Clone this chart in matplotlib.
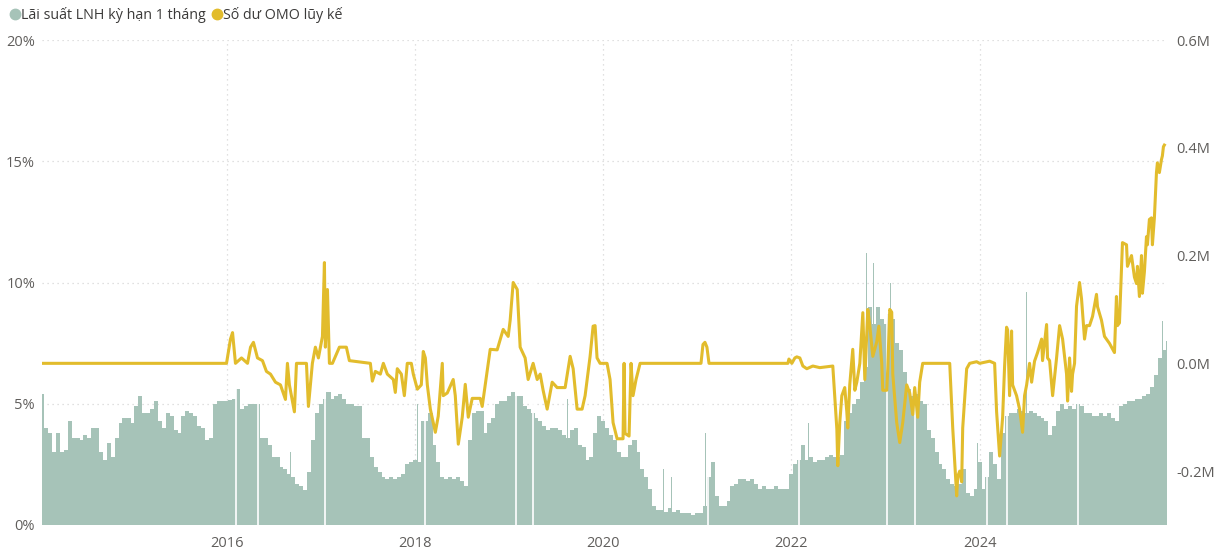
import numpy as np
import matplotlib
matplotlib.use('Agg')
import matplotlib.pyplot as plt
from matplotlib.lines import Line2D

plt.rcParams['font.family'] = ['Open Sans', 'DejaVu Sans']

# Lai suat LNH ky han 1 thang (%), gia tri nua thang
rate_2014 = [5.4, 4.0, 3.8, 3.0, 3.8, 3.0, 3.1, 4.3, 3.6, 3.6, 3.5, 3.7, 3.6, 4.0, 4.0, 3.0, 2.7, 3.4, 2.8, 3.6, 4.2, 4.4, 4.4, 4.2]
rate_2015 = [4.9, 5.3, 4.6, 4.6, 4.8, 5.1, 4.3, 4.0, 4.6, 4.5, 3.9, 3.8, 4.5, 4.7, 4.6, 4.5, 4.1, 4.0, 3.5, 3.6, 5.0, 5.1, 5.1, 5.1]
rate_2016 = [5.15, 5.2, 5.6, 4.8, 4.9, 5.0, 5.0, 5.0, 3.6, 3.6, 3.3, 2.8, 2.8, 2.4, 2.3, 2.1, 2.0, 1.7, 1.6, 1.45, 2.2, 3.5, 4.6, 5.0]
rate_2017 = [5.2, 5.5, 5.2, 5.3, 5.4, 5.2, 5.0, 5.0, 4.9, 4.9, 3.6, 3.6, 2.8, 2.4, 2.2, 2.0, 1.9, 2.0, 1.9, 2.0, 2.1, 2.5, 2.6, 2.7]
rate_2018 = [2.6, 4.3, 4.3, 4.6, 3.3, 2.6, 2.0, 1.9, 2.0, 1.9, 2.0, 1.8, 1.6, 3.5, 4.6, 4.7, 4.7, 3.8, 4.2, 4.4, 5.0, 5.1, 5.1, 5.3]
rate_2019 = [5.5, 5.3, 5.3, 4.9, 4.8, 4.6, 4.4, 4.3, 4.1, 3.9, 4.0, 4.0, 3.9, 3.7, 3.6, 3.9, 4.0, 3.3, 3.2, 2.7, 2.8, 3.8, 4.5, 4.3]
rate_2020 = [4.0, 3.7, 3.5, 3.0, 2.8, 2.8, 3.3, 3.5, 3.0, 2.3, 2.0, 1.5, 0.8, 0.6, 0.6, 0.55, 0.7, 0.55, 0.6, 0.5, 0.5, 0.5, 0.4, 0.5]
rate_2021 = [0.5, 0.8, 2.0, 2.6, 1.2, 0.8, 0.8, 1.0, 1.6, 1.7, 1.9, 1.9, 1.8, 1.9, 1.7, 1.5, 1.6, 1.5, 1.5, 1.6, 1.5, 1.5, 1.5, 2.1]
rate_2022 = [2.5, 2.7, 3.3, 2.7, 2.8, 2.6, 2.7, 2.7, 2.8, 2.9, 2.8, 2.8, 2.9, 4.3, 4.6, 5.0, 5.2, 5.9, 6.5, 9.0, 8.3, 9.0, 8.5, 8.3]
rate_2023 = [8.7, 8.5, 7.5, 7.2, 6.3, 5.6, 5.3, 5.4, 5.1, 5.0, 3.9, 3.6, 3.0, 2.5, 2.3, 1.9, 1.7, 1.6, 1.7, 2.3, 1.3, 1.2, 1.5, 2.6]
rate_2024 = [1.5, 2.0, 3.0, 2.5, 1.9, 3.8, 4.5, 4.6, 4.6, 4.8, 4.7, 4.6, 4.7, 4.6, 4.5, 4.4, 4.3, 3.7, 4.1, 4.7, 5.0, 4.8, 4.9, 4.8]
rate_2025 = [5.0, 4.9, 4.6, 4.6, 4.5, 4.5, 4.6, 4.5, 4.6, 4.4, 4.3, 4.9, 5.0, 5.1, 5.1, 5.2, 5.2, 5.3, 5.4, 5.7, 6.2, 6.9, 7.2, 7.6]

rate_years = list(range(2014, 2026))
rates = [rate_2014, rate_2015, rate_2016, rate_2017, rate_2018, rate_2019,
         rate_2020, rate_2021, rate_2022, rate_2023, rate_2024, rate_2025]

# cac ngay lai suat tang dot bien
spike_dates = [2016.06, 2016.68, 2017.45, 2018.03, 2019.62, 2020.64, 2020.73, 2021.09, 2022.18,
               2022.80, 2022.87, 2022.94, 2023.05, 2023.79, 2023.98, 2024.50, 2025.94]
spike_vals = [5.7, 3.0, 4.2, 5.0, 5.2, 2.3, 2.0, 3.8, 4.2,
              11.2, 10.8, 9.6, 10.0, 3.0, 3.4, 9.6, 8.4]

# ngay nghi (Tet, 30/4) - khong co du lieu
gap_dates = [2016.10, 2016.33, 2017.05, 2018.11, 2019.08, 2019.26, 2021.11,
             2022.08, 2023.02, 2023.31, 2024.08, 2024.29, 2025.04]

# So du OMO luy ke (trieu ty)
omo_t = [2014.04, 2016.000, 2016.042, 2016.064, 2016.095, 2016.159, 2016.223, 2016.255, 2016.286,
         2016.329, 2016.382, 2016.424, 2016.467, 2016.520, 2016.573, 2016.626, 2016.647, 2016.668,
         2016.721, 2016.743, 2016.849, 2016.870, 2016.912, 2016.944, 2016.976, 2017.019, 2017.040,
         2017.050, 2017.072, 2017.093, 2017.125, 2017.199, 2017.273, 2017.305, 2017.528, 2017.549,
         2017.581, 2017.634, 2017.666, 2017.708, 2017.772, 2017.793, 2017.814, 2017.857, 2017.889,
         2017.920, 2017.963, 2017.984, 2018.027, 2018.069, 2018.090, 2018.112, 2018.133, 2018.165,
         2018.218, 2018.249, 2018.292, 2018.302, 2018.345, 2018.408, 2018.430, 2018.462, 2018.504,
         2018.536, 2018.568, 2018.610, 2018.695, 2018.716, 2018.748, 2018.801, 2018.875, 2018.939,
         2018.992, 2019.013, 2019.045, 2019.088, 2019.119, 2019.172, 2019.204, 2019.257, 2019.300,
         2019.332, 2019.363, 2019.406, 2019.459, 2019.512, 2019.597, 2019.650, 2019.682, 2019.724,
         2019.777, 2019.809, 2019.862, 2019.894, 2019.915, 2019.936, 2019.968, 2020.042, 2020.074,
         2020.106, 2020.149, 2020.212, 2020.223, 2020.233, 2020.276, 2020.297, 2020.318, 2020.350,
         2020.393, 2021.040, 2021.061, 2021.082, 2021.103, 2021.125, 2021.963, 2021.974, 2022.005,
         2022.037, 2022.058, 2022.090, 2022.122, 2022.164, 2022.228, 2022.302, 2022.440, 2022.483,
         2022.493, 2022.514, 2022.536, 2022.567, 2022.589, 2022.599, 2022.620, 2022.652, 2022.674,
         2022.695, 2022.727, 2022.759, 2022.780, 2022.812, 2022.833, 2022.865, 2022.907, 2022.929,
         2022.960, 2022.971, 2023.013, 2023.024, 2023.045, 2023.066, 2023.077, 2023.119, 2023.151,
         2023.183, 2023.225, 2023.257, 2023.289, 2023.310, 2023.342, 2023.363, 2023.395, 2023.682,
         2023.714, 2023.756, 2023.767, 2023.788, 2023.809, 2023.820, 2023.862, 2023.894, 2023.968,
         2024.000, 2024.106, 2024.159, 2024.180, 2024.212, 2024.244, 2024.265, 2024.286, 2024.297,
         2024.318, 2024.339, 2024.350, 2024.392, 2024.424, 2024.456, 2024.477, 2024.499, 2024.530,
         2024.552, 2024.583, 2024.615, 2024.658, 2024.668, 2024.711, 2024.721, 2024.743, 2024.775,
         2024.817, 2024.849, 2024.881, 2024.923, 2024.934, 2024.955, 2024.976, 2024.987, 2025.008,
         2025.029, 2025.061, 2025.082, 2025.114, 2025.135, 2025.167, 2025.199, 2025.241, 2025.252,
         2025.294, 2025.326, 2025.379, 2025.432, 2025.453, 2025.464, 2025.485, 2025.517, 2025.560,
         2025.570, 2025.613, 2025.644, 2025.666, 2025.676, 2025.697, 2025.719, 2025.729, 2025.750,
         2025.772, 2025.782, 2025.803, 2025.825, 2025.835, 2025.856, 2025.878, 2025.888, 2025.909,
         2025.931, 2025.941, 2025.952, 2025.962]
omo_v = [0.0, 0.0, 0.045, 0.057, 0.0, 0.01, 0.0, 0.03, 0.039,
         0.01, 0.005, -0.015, -0.02, -0.035, -0.04, -0.067, 0.0, -0.04,
         -0.09, 0.0, 0.0, -0.08, 0.0, 0.03, 0.01, 0.05, 0.187,
         0.03, 0.137, 0.0, 0.0, 0.03, 0.03, 0.005, 0.0, -0.033,
         -0.015, -0.02, 0.0, -0.02, -0.03, -0.054, -0.01, -0.02, -0.06,
         0.0, 0.0, -0.02, -0.048, -0.04, 0.022, 0.01, -0.04, -0.085,
         -0.128, -0.098, 0.0, -0.06, -0.055, -0.03, -0.06, -0.15, -0.1,
         -0.039, -0.1, -0.065, -0.065, -0.08, -0.04, 0.026, 0.025, 0.063,
         0.05, 0.08, 0.15, 0.137, 0.03, 0.01, -0.03, 0.0, -0.03,
         -0.02, -0.05, -0.085, -0.035, -0.045, -0.045, 0.013, -0.01, -0.085,
         -0.085, -0.06, 0.013, 0.069, 0.07, 0.01, 0.0, 0.0, -0.03,
         -0.11, -0.14, -0.14, 0.0, -0.13, -0.135, 0.0, -0.06, -0.03,
         0.0, 0.0, 0.035, 0.039, 0.03, 0.0, 0.0, 0.008, 0.0,
         0.01, 0.012, 0.01, -0.005, -0.01, -0.005, -0.008, -0.005, -0.122,
         -0.19, -0.11, -0.06, -0.045, -0.09, -0.12, -0.04, 0.026, -0.05,
         -0.035, 0.0, 0.094, -0.03, 0.1, 0.07, 0.013, 0.04, 0.069,
         0.0, -0.05, -0.05, -0.01, 0.1, 0.095, -0.02, -0.11, -0.147,
         -0.11, -0.04, -0.055, -0.095, -0.045, -0.1, -0.035, 0.0, 0.0,
         -0.12, -0.246, -0.21, -0.2, -0.22, -0.12, -0.01, 0.0, 0.003,
         0.0, 0.004, 0.0, -0.09, -0.172, -0.1, -0.005, 0.067, 0.062,
         -0.06, 0.06, -0.04, -0.06, -0.085, -0.128, -0.06, -0.04, 0.0,
         -0.035, 0.004, 0.02, 0.045, 0.005, 0.072, 0.01, 0.005, -0.06,
         0.01, 0.07, 0.045, -0.02, -0.07, 0.01, -0.052, -0.02, 0.0,
         0.106, 0.15, 0.12, 0.045, 0.07, 0.07, 0.087, 0.128, 0.105,
         0.08, 0.05, 0.037, 0.02, 0.124, 0.07, 0.075, 0.224, 0.22,
         0.18, 0.2, 0.16, 0.148, 0.18, 0.124, 0.2, 0.13, 0.17,
         0.235, 0.22, 0.267, 0.27, 0.22, 0.27, 0.354, 0.372, 0.354,
         0.378, 0.385, 0.402, 0.405]

bar_color = '#A6C3B8'
line_color = '#E2BC2C'
text_color = '#605E5C'
grid_color = '#D6D6D6'

bar_x = np.concatenate([y + (np.arange(len(r)) + 1) / 24 for y, r in zip(rate_years, rates)])
bar_y = np.concatenate(rates)

fig = plt.figure(figsize=(12.22, 5.5), dpi=100)
ax = fig.add_axes([42 / 1222, 25 / 550, 1125 / 1222, 485 / 550])

ax.bar(bar_x, bar_y, width=1 / 24 * 1.05, color=bar_color, linewidth=0, zorder=2)
ax.bar(spike_dates, spike_vals, width=0.007, color=bar_color, linewidth=0, zorder=2)
ax.vlines(gap_dates, 0, 12, color='white', lw=1.2, zorder=2.5)

ax.set_xlim(2014.04, 2025.99)
ax.set_ylim(0, 20)
ax.set_yticks([0, 5, 10, 15, 20])
ax.set_yticklabels(['0%', '5%', '10%', '15%', '20%'])
ax.set_xticks([2016, 2018, 2020, 2022, 2024])
ax.set_xticklabels(['2016', '2018', '2020', '2022', '2024'])
ax.grid(True, ls=(0, (1, 3)), color=grid_color, lw=0.9)
ax.set_axisbelow(True)
for s in ax.spines.values():
    s.set_visible(False)
ax.tick_params(axis='y', length=0, labelsize=10.5, colors=text_color, pad=5)
ax.tick_params(axis='x', length=0, labelsize=10.5, colors=text_color, pad=8)

ax2 = ax.twinx()
ax2.plot(omo_t, omo_v, color=line_color, lw=2.2, solid_joinstyle='round', zorder=3)
ax2.set_ylim(-0.3, 0.6)
ax2.set_yticks([-0.2, 0.0, 0.2, 0.4, 0.6])
ax2.set_yticklabels(['-0.2M', '0.0M', '0.2M', '0.4M', '0.6M'])
for s in ax2.spines.values():
    s.set_visible(False)
ax2.tick_params(axis='y', length=0, labelsize=10.5, colors=text_color, pad=7)

handles = [Line2D([], [], marker='o', ls='', color=bar_color, markersize=7.5),
           Line2D([], [], marker='o', ls='', color=line_color, markersize=7.5)]
fig.legend(handles, ['Lãi suất LNH kỳ hạn 1 tháng', 'Số dư OMO lũy kế'],
           loc='upper left', bbox_to_anchor=(-0.002, 1.01), ncol=2, frameon=False,
           handlelength=0.6, handletextpad=0.15, columnspacing=0.45,
           fontsize=10.3, labelcolor='#3B3A39')

fig.savefig('out.png', dpi=100)
